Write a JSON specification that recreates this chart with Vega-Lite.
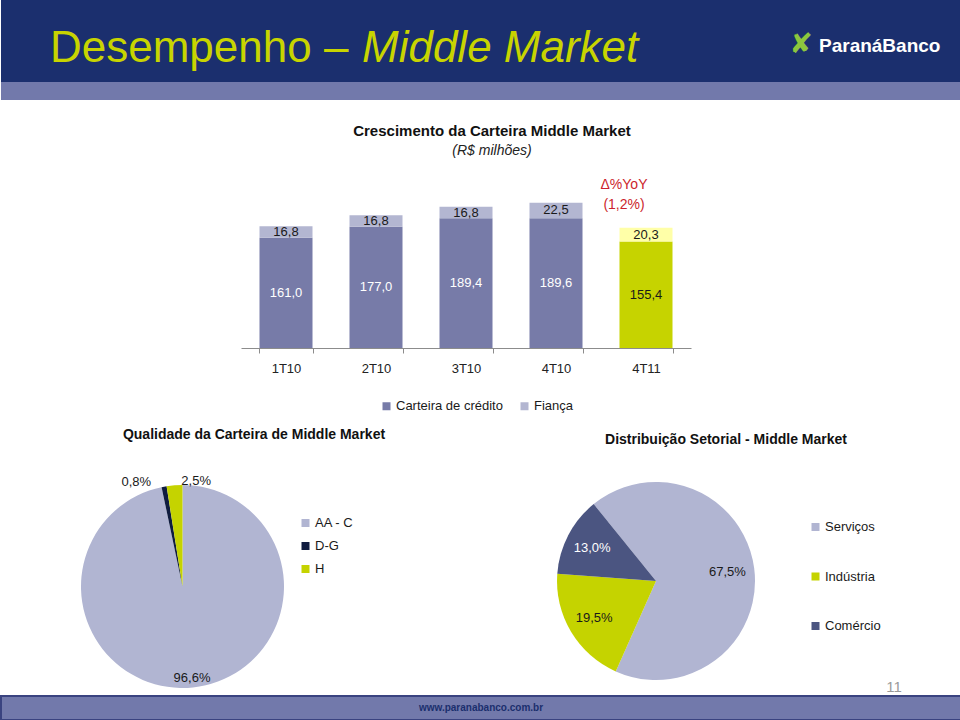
{
  "$schema": "https://vega.github.io/schema/vega-lite/v6.json",
  "padding": 0,
  "background": "#ffffff",
  "spacing": 0,
  "bounds": "flush",
  "config": {
    "font": "Liberation Sans",
    "view": {"stroke": null},
    "locale": {"number": {"decimal": ",", "thousands": ".", "grouping": [3], "currency": ["R$ ", ""]}},
    "title": {"font": "Liberation Sans", "subtitleFont": "Liberation Sans", "color": "#111111"},
    "axis": {"labelFont": "Liberation Sans"},
    "legend": {"labelFont": "Liberation Sans"}
  },
  "resolve": {"scale": {"color": "independent", "x": "independent", "y": "independent", "theta": "independent"}, "legend": {"color": "independent"}},
  "vconcat": [
    {
      "width": 960, "height": 82,
      "view": {"fill": "#1b2f6e", "stroke": null},
      "layer": [
        {"data": {"values": [{"texto": "Desempenho –"}]},
         "mark": {"type": "text", "align": "left", "baseline": "alphabetic", "dx": -431, "dy": 21, "fontSize": 44, "color": "#c8d400", "font": "Liberation Sans"},
         "encoding": {"text": {"field": "texto"}}},
        {"data": {"values": [{"texto": "Middle Market"}]},
         "mark": {"type": "text", "align": "left", "baseline": "alphabetic", "dx": -119, "dy": 21, "fontSize": 44, "fontStyle": "italic", "color": "#c8d400", "font": "Liberation Sans"},
         "encoding": {"text": {"field": "texto"}}},
        {"data": {"values": [{"texto": "✘"}]},
         "mark": {"type": "text", "align": "center", "baseline": "middle", "dx": 320, "dy": 4, "fontSize": 28, "color": "#8cc63e", "font": "DejaVu Sans"},
         "encoding": {"text": {"field": "texto"}}},
        {"data": {"values": [{"texto": "ParanáBanco"}]},
         "mark": {"type": "text", "align": "left", "baseline": "alphabetic", "dx": 338, "dy": 11, "fontSize": 19, "fontWeight": "bold", "color": "#ffffff", "font": "Liberation Sans"},
         "encoding": {"text": {"field": "texto"}}}
      ]
    },
    {"width": 960, "height": 18, "view": {"fill": "#7279ab", "stroke": null}, "data": {"values": []}, "mark": "point", "encoding": {}},
    {"width": 960, "height": 70, "data": {"values": []}, "mark": "point", "encoding": {}},
    {
      "width": 960, "height": 178,
      "title": {"text": "Crescimento da Carteira Middle Market", "subtitle": "(R$ milhões)", "fontSize": 15, "fontWeight": "bold", "subtitleFontSize": 14, "subtitleFontStyle": "italic", "subtitleColor": "#222222", "subtitlePadding": 5, "offset": 12, "dx": 11, "anchor": "middle"},
      "data": {"values": [
        {"tri": "1T10", "tipo": "Carteira de crédito", "valor": 161.0},
        {"tri": "1T10", "tipo": "Fiança", "valor": 16.8},
        {"tri": "2T10", "tipo": "Carteira de crédito", "valor": 177.0},
        {"tri": "2T10", "tipo": "Fiança", "valor": 16.8},
        {"tri": "3T10", "tipo": "Carteira de crédito", "valor": 189.4},
        {"tri": "3T10", "tipo": "Fiança", "valor": 16.8},
        {"tri": "4T10", "tipo": "Carteira de crédito", "valor": 189.6},
        {"tri": "4T10", "tipo": "Fiança", "valor": 22.5},
        {"tri": "4T11", "tipo": "Carteira de crédito", "valor": 155.4},
        {"tri": "4T11", "tipo": "Fiança", "valor": 20.3}
      ]},
      "layer": [
        {
          "mark": {"type": "bar"},
          "encoding": {
            "x": {"field": "tri", "type": "nominal", "sort": null, "title": null,
                  "scale": {"range": [240, 690], "paddingInner": 0.411, "paddingOuter": 0.2055},
                  "axis": {"labelAngle": 0, "labelFontSize": 13, "labelColor": "#222222", "domainColor": "#8c8c8c", "tickColor": "#8c8c8c", "tickSize": 5, "labelPadding": 9, "tickBand": "extent", "grid": false}},
            "y": {"field": "valor", "type": "quantitative", "stack": "zero", "scale": {"domain": [0, 255]}, "axis": null},
            "order": {"field": "tipo", "sort": "ascending"},
            "color": {
              "field": "tipo", "type": "nominal",
              "scale": {"domain": ["Carteira de crédito", "Fiança"], "range": ["#777ba8", "#b3b6d1"]},
              "condition": [
                {"test": "datum.tri === '4T11' && datum.tipo === 'Fiança'", "value": "#ffffa8"},
                {"test": "datum.tri === '4T11' && datum.tipo !== 'Fiança'", "value": "#c6d300"}
              ],
              "legend": {"orient": "none", "legendX": 379, "legendY": 229.5, "direction": "horizontal", "title": null, "symbolType": "square", "symbolSize": 64, "symbolStrokeWidth": 0, "labelFontSize": 13, "labelColor": "#1a1a1a", "labelOffset": 3, "columnPadding": 15, "padding": 0}
            }
          }
        },
        {
          "mark": {"type": "text", "fontSize": 13, "baseline": "middle"},
          "encoding": {
            "x": {"field": "tri", "type": "nominal", "sort": null},
            "y": {"field": "valor", "type": "quantitative", "stack": "zero", "bandPosition": 0.5},
            "detail": {"field": "tipo"},
            "order": {"field": "tipo", "sort": "ascending"},
            "text": {"field": "valor", "type": "quantitative", "format": ".1f"},
            "color": {"condition": {"test": "datum.tipo === 'Carteira de crédito' && datum.tri !== '4T11'", "value": "#ffffff"}, "value": "#1a1a1a"}
          }
        },
        {
          "data": {"values": [{"tri": "4T11", "nota": "Δ%YoY\n(1,2%)"}]},
          "mark": {"type": "text", "fontSize": 14, "lineBreak": "\n", "lineHeight": 20, "baseline": "middle", "dx": -22, "color": "#cc1f2d"},
          "encoding": {
            "x": {"field": "tri", "type": "nominal", "sort": null},
            "y": {"datum": 238, "type": "quantitative"},
            "text": {"field": "nota"}
          }
        }
      ]
    },
    {"width": 960, "height": 134, "data": {"values": []}, "mark": "point", "encoding": {}},
    {
      "hconcat": [
        {"width": 80, "height": 209, "data": {"values": []}, "mark": "point", "encoding": {}},
        {
          "width": 203, "height": 209,
          "title": {"text": "Qualidade da Carteira de Middle Market", "fontSize": 14, "fontWeight": "bold", "offset": 33, "dx": 71.5, "anchor": "middle"},
          "data": {"values": [
            {"classe": "AA - C", "pct": 0.966},
            {"classe": "D-G", "pct": 0.008},
            {"classe": "H", "pct": 0.025}
          ]},
          "layer": [
            {
              "mark": {"type": "arc", "outerRadius": 101.5},
              "encoding": {
                "theta": {"field": "pct", "type": "quantitative", "stack": true},
                "order": {"field": "classe", "sort": "ascending"},
                "color": {"field": "classe", "type": "nominal",
                  "scale": {"domain": ["AA - C", "D-G", "H"], "range": ["#b1b5d2", "#0f1c3f", "#c5d300"]},
                  "legend": {"orient": "none", "legendX": 218, "legendY": 34.5, "direction": "vertical", "title": null, "symbolType": "square", "symbolSize": 64, "symbolStrokeWidth": 0, "labelFontSize": 13, "labelColor": "#1a1a1a", "labelOffset": 3, "rowPadding": 9, "padding": 0}}
              }
            },
            {
              "mark": {"type": "text", "radius": 92, "fontSize": 13, "color": "#1a1a1a"},
              "encoding": {
                "theta": {"field": "pct", "type": "quantitative", "stack": true},
                "order": {"field": "classe", "sort": "ascending"},
                "text": {"condition": {"test": "datum.classe === 'AA - C'", "field": "pct", "type": "quantitative", "format": ".1%"}, "value": ""}
              }
            },
            {
              "mark": {"type": "text", "radius": 106, "dx": -27, "fontSize": 13, "color": "#1a1a1a"},
              "encoding": {
                "theta": {"field": "pct", "type": "quantitative", "stack": true},
                "order": {"field": "classe", "sort": "ascending"},
                "text": {"condition": {"test": "datum.classe === 'D-G'", "field": "pct", "type": "quantitative", "format": ".1%"}, "value": ""}
              }
            },
            {
              "mark": {"type": "text", "radius": 106, "dx": 22, "fontSize": 13, "color": "#1a1a1a"},
              "encoding": {
                "theta": {"field": "pct", "type": "quantitative", "stack": true},
                "order": {"field": "classe", "sort": "ascending"},
                "text": {"condition": {"test": "datum.classe === 'H'", "field": "pct", "type": "quantitative", "format": ".1%"}, "value": ""}
              }
            }
          ]
        },
        {"width": 273, "height": 209, "data": {"values": []}, "mark": "point", "encoding": {}},
        {
          "width": 198, "height": 198,
          "title": {"text": "Distribuição Setorial - Middle Market", "fontSize": 14, "fontWeight": "bold", "offset": 35, "dx": 70, "anchor": "middle"},
          "data": {"values": [
            {"setor": "Serviços", "pct": 0.675},
            {"setor": "Indústria", "pct": 0.195},
            {"setor": "Comércio", "pct": 0.13}
          ]},
          "layer": [
            {
              "mark": {"type": "arc", "outerRadius": 99},
              "encoding": {
                "theta": {"field": "pct", "type": "quantitative", "stack": true, "scale": {"range": [-0.6807, 5.6025]}},
                "order": {"field": "setor", "sort": "descending"},
                "color": {"field": "setor", "type": "nominal",
                  "scale": {"domain": ["Serviços", "Indústria", "Comércio"], "range": ["#b1b5d2", "#c5d300", "#4b5581"]},
                  "legend": {"orient": "none", "legendX": 252, "legendY": 38.5, "direction": "vertical", "title": null, "symbolType": "square", "symbolSize": 64, "symbolStrokeWidth": 0, "labelFontSize": 13, "labelColor": "#1a1a1a", "labelOffset": 3, "rowPadding": 35.5, "padding": 0}}
              }
            },
            {
              "mark": {"type": "text", "radius": 72, "fontSize": 13},
              "encoding": {
                "theta": {"field": "pct", "type": "quantitative", "stack": true, "scale": {"range": [-0.6807, 5.6025]}},
                "order": {"field": "setor", "sort": "descending"},
                "text": {"field": "pct", "type": "quantitative", "format": ".1%"},
                "color": {"condition": {"test": "datum.setor === 'Comércio'", "value": "#ffffff"}, "value": "#1a1a1a"}
              }
            },
            {
              "data": {"values": [{"pagina": "11"}]},
              "mark": {"type": "text", "dx": 238, "dy": 106, "fontSize": 15, "color": "#9a9a9a"},
              "encoding": {"text": {"field": "pagina"}}
            }
          ]
        }
      ],
      "spacing": 0,
      "bounds": "flush",
      "resolve": {"scale": {"color": "independent", "theta": "independent"}, "legend": {"color": "independent"}}
    },
    {"width": 960, "height": 214, "data": {"values": []}, "mark": "point", "encoding": {}},
    {
      "width": 960, "height": 24,
      "view": {"fill": "#7279ab", "stroke": "#3a4380", "strokeWidth": 2},
      "data": {"values": [{"site": "www.paranabanco.com.br"}]},
      "mark": {"type": "text", "fontSize": 10, "fontWeight": "bold", "color": "#1b2f6e"},
      "encoding": {"text": {"field": "site"}}
    }
  ]
}
